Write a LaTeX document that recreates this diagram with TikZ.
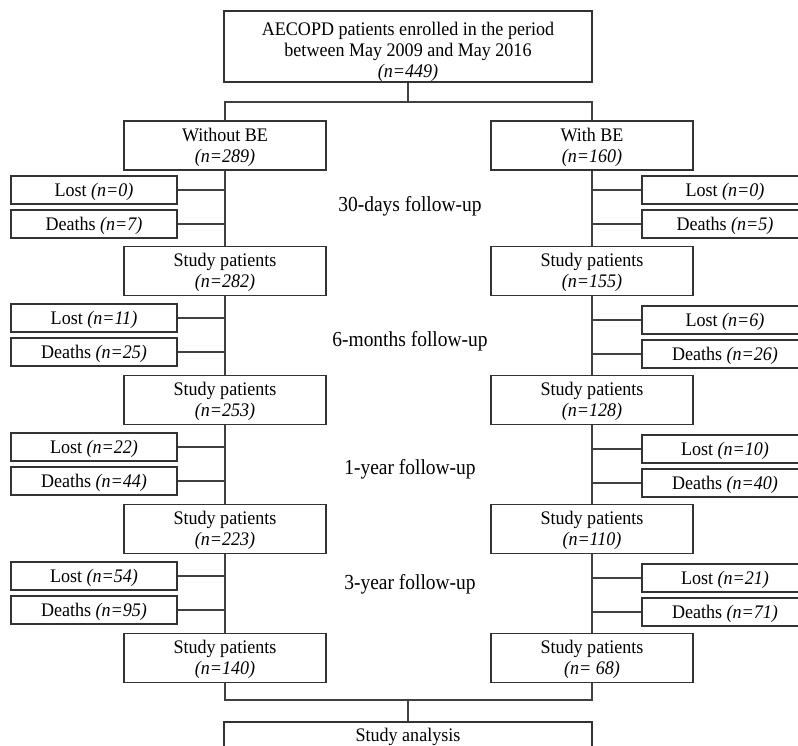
\documentclass[tikz,border=0pt]{standalone}
\usepackage{fontspec}
\setmainfont{Liberation Serif}
\newfontfamily\boxfont[FakeStretch=0.94]{Liberation Serif}
\newfontfamily\stagefont[FakeStretch=0.91]{Liberation Serif}
\newcommand\tx[2][2.2pt]{\raisebox{-#1}[\height][\depth]{\begin{tabular}{@{}c@{}}#2\end{tabular}}}
\begin{document}
\begin{tikzpicture}[x=1pt,y=-1pt,
  box/.style={draw=black!80, line width=1.3pt, inner sep=0pt,
    font=\boxfont\fontsize{19.2}{21}\selectfont},
  side/.style={box, minimum width=166pt, minimum height=28pt},
  study/.style={box, minimum width=202pt, minimum height=49pt},
  conn/.style={draw=black!75, line width=1.3pt},
  stage/.style={font=\stagefont\fontsize{21.4}{24}\selectfont, inner sep=0pt}]
\useasboundingbox (0,0) rectangle (798,746);
\clip (0,0) rectangle (798,746);
\fill[white] (0,0) rectangle (798,746);

% top
\node[box, minimum width=368pt, minimum height=71pt] (top) at (408,46.5)
  {\tx[5.5pt]{AECOPD patients enrolled in the period\\between May 2009 and May 2016\\\textit{(n=449)}}};
\node[study] (wob) at (225,145.5) {\tx{Without BE\\\textit{(n=289)}}};
\node[study] (wb) at (592,145.5) {\tx{With BE\\\textit{(n=160)}}};
\coordinate (j1) at (408,102);
\draw[conn] (top.south) -- (j1);
\draw[conn] (wob.north) |- (j1) -| (wb.north);

% stage 1
\node[side] (l1) at (94,190) {\tx{Lost \textit{(n=0)}}};
\node[side] (d1) at (94,224) {\tx{Deaths \textit{(n=7)}}};
\node[side] (rl1) at (725,190) {\tx{Lost \textit{(n=0)}}};
\node[side] (rd1) at (725,224) {\tx{Deaths \textit{(n=5)}}};
\node[stage] (t1) at (410,206) {30-days follow-up};
\node[study] (s1) at (225,271) {\tx{Study patients\\\textit{(n=282)}}};
\node[study] (rs1) at (592,271) {\tx{Study patients\\\textit{(n=155)}}};
\draw[conn] (wob.south) -- (s1.north);
\draw[conn] (wb.south) -- (rs1.north);
\draw[conn] (l1.east) -- (l1.east -| wob.south);
\draw[conn] (d1.east) -- (d1.east -| wob.south);
\draw[conn] (rl1.west) -- (rl1.west -| wb.south);
\draw[conn] (rd1.west) -- (rd1.west -| wb.south);

% stage 2
\node[side] (l2) at (94,318) {\tx{Lost \textit{(n=11)}}};
\node[side] (d2) at (94,352) {\tx{Deaths \textit{(n=25)}}};
\node[side] (rl2) at (725,320) {\tx{Lost \textit{(n=6)}}};
\node[side] (rd2) at (725,354) {\tx{Deaths \textit{(n=26)}}};
\node[stage] (t2) at (410,341) {6-months follow-up};
\node[study] (s2) at (225,400) {\tx{Study patients\\\textit{(n=253)}}};
\node[study] (rs2) at (592,400) {\tx{Study patients\\\textit{(n=128)}}};
\draw[conn] (s1.south) -- (s2.north);
\draw[conn] (rs1.south) -- (rs2.north);
\draw[conn] (l2.east) -- (l2.east -| s1.south);
\draw[conn] (d2.east) -- (d2.east -| s1.south);
\draw[conn] (rl2.west) -- (rl2.west -| rs1.south);
\draw[conn] (rd2.west) -- (rd2.west -| rs1.south);

% stage 3
\node[side] (l3) at (94,447) {\tx{Lost \textit{(n=22)}}};
\node[side] (d3) at (94,481) {\tx{Deaths \textit{(n=44)}}};
\node[side] (rl3) at (725,449) {\tx{Lost \textit{(n=10)}}};
\node[side] (rd3) at (725,483) {\tx{Deaths \textit{(n=40)}}};
\node[stage] (t3) at (410,469) {1-year follow-up};
\node[study] (s3) at (225,529) {\tx{Study patients\\\textit{(n=223)}}};
\node[study] (rs3) at (592,529) {\tx{Study patients\\\textit{(n=110)}}};
\draw[conn] (s2.south) -- (s3.north);
\draw[conn] (rs2.south) -- (rs3.north);
\draw[conn] (l3.east) -- (l3.east -| s2.south);
\draw[conn] (d3.east) -- (d3.east -| s2.south);
\draw[conn] (rl3.west) -- (rl3.west -| rs2.south);
\draw[conn] (rd3.west) -- (rd3.west -| rs2.south);

% stage 4
\node[side] (l4) at (94,576) {\tx{Lost \textit{(n=54)}}};
\node[side] (d4) at (94,610) {\tx{Deaths \textit{(n=95)}}};
\node[side] (rl4) at (725,578) {\tx{Lost \textit{(n=21)}}};
\node[side] (rd4) at (725,612) {\tx{Deaths \textit{(n=71)}}};
\node[stage] (t4) at (410,584) {3-year follow-up};
\node[study] (s4) at (225,658) {\tx{Study patients\\\textit{(n=140)}}};
\node[study] (rs4) at (592,658) {\tx{Study patients\\\textit{(n= 68)}}};
\draw[conn] (s3.south) -- (s4.north);
\draw[conn] (rs3.south) -- (rs4.north);
\draw[conn] (l4.east) -- (l4.east -| s3.south);
\draw[conn] (d4.east) -- (d4.east -| s3.south);
\draw[conn] (rl4.west) -- (rl4.west -| rs3.south);
\draw[conn] (rd4.west) -- (rd4.west -| rs3.south);

% final
\node[box, minimum width=368pt, minimum height=28pt] (fin) at (408,736) {\tx[1pt]{Study analysis}};
\coordinate (j2) at (408,700);
\draw[conn] (s4.south) |- (j2) -| (rs4.south);
\draw[conn] (j2) -- (fin.north);
\end{tikzpicture}
\end{document}
